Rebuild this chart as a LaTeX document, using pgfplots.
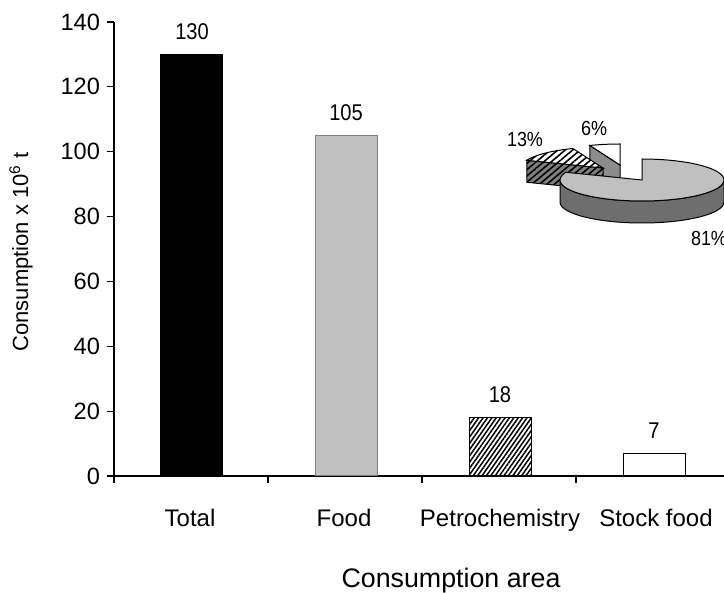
\documentclass[border=0pt]{standalone}
\usepackage{pgfplots}
\pgfplotsset{compat=1.18}
\usepackage{fontspec}
\setmainfont{Liberation Sans}
\newfontfamily\narrowfont[FakeStretch=0.88]{Liberation Sans}
\usetikzlibrary{calc,patterns.meta}

\definecolor{silverfill}{HTML}{C0C0C0}
\definecolor{silveredge}{HTML}{808080}
\definecolor{pieside}{HTML}{6E6E6E}
\definecolor{cutgray}{HTML}{8C8C8C}
\definecolor{hatchside}{HTML}{808080}

\tikzset{hatch/.style={pattern={Lines[angle=55,distance=1.8pt,line width=0.75pt]}},
         piehatch/.style={pattern={Lines[angle=40,distance=2.4pt,line width=0.8pt]}}}

% shares of the consumption (percent) and the pie angles derived from them
\pgfmathsetmacro\shareFood{81}
\pgfmathsetmacro\sharePetro{13}
\pgfmathsetmacro\shareStock{6}
\pgfmathsetmacro\angStockEnd{90+3.6*\shareStock}
\pgfmathsetmacro\angPetroEnd{\angStockEnd+3.6*\sharePetro}
\pgfmathsetmacro\angFoodEnd{90-3.6*\shareFood}

\def\rx{41pt}
\def\ry{10.5pt}
\def\depth{11pt}

\begin{document}
\begin{tikzpicture}
\begin{axis}[
  at={(0pt,0pt)}, anchor=south west,
  scale only axis, width=305pt, height=227pt,
  xmin=114, xmax=724, ymin=0, ymax=140,
  axis lines=left,
  axis line style={-, line width=0.8pt, black},
  tick style={black, line width=0.6pt},
  tick align=outside,
  major tick length=3.5pt,
  ytick={0,20,...,140},
  xtick={114,268,422,576},
  xticklabels={},
  extra x ticks={190,344,500,656},
  extra x tick labels={Total,Food,Petrochemistry,Stock food},
  extra x tick style={major tick length=0pt,
    xticklabel style={anchor=base, yshift=-25.5pt, font=\fontsize{12}{13}\selectfont}},
  yticklabel style={font=\fontsize{11.8}{13}\selectfont},
  /pgf/number format/assume math mode=true,
  clip=false,
  nodes near coords={\narrowfont\fontsize{11.4}{12}\selectfont\pgfmathprintnumber{\pgfplotspointmeta}},
  every node near coord/.append style={anchor=base, yshift=7.6pt, text=black, inner sep=0pt},
]
\addplot[ybar, bar shift=0pt, bar width=62, fill=black, draw=black, line width=0.5pt]
  coordinates {(192,130)};
\addplot[ybar, bar shift=0pt, bar width=62, fill=silverfill, draw=silveredge, line width=0.5pt]
  coordinates {(346,105)};
\addplot[ybar, bar shift=0pt, bar width=62, hatch, draw=black, line width=0.5pt]
  coordinates {(500,18)};
\addplot[ybar, bar shift=0pt, bar width=62, fill=white, draw=black, line width=0.5pt]
  coordinates {(654,7)};
\end{axis}

% overlay axis in the same frame: the 3-D pie of the shares and the axis titles
\begin{axis}[
  at={(0pt,0pt)}, anchor=south west,
  scale only axis, width=305pt, height=227pt,
  xmin=114, xmax=724, ymin=22, ymax=476, y dir=reverse,
  hide axis, clip=false,
]
% stock food slice (white), pulled towards the back
\filldraw[fill=cutgray, draw=black, line width=0.5pt]
  (axis cs:620,165)
  -- ($(axis cs:620,165)+(\angStockEnd:41pt and 10.5pt)$)
  -- ++(0pt,-\depth)
  -- ($(axis cs:620,165)+(0pt,-\depth)$) -- cycle;
\filldraw[fill=white, draw=black, line width=0.5pt]
  (axis cs:620,165) -- ($(axis cs:620,165)+(0pt,\ry)$)
  arc[start angle=90, end angle=\angStockEnd, x radius=\rx, y radius=\ry] -- cycle;
% petrochemistry slice (hatched)
\filldraw[fill=hatchside, draw=black, line width=0.5pt, postaction={piehatch}]
  (axis cs:603,168)
  -- ($(axis cs:603,168)+(\angPetroEnd:41pt and 10.5pt)$)
  -- ++(0pt,-\depth)
  -- ($(axis cs:603,168)+(0pt,-\depth)$) -- cycle;
\filldraw[fill=white, draw=black, line width=0.5pt, postaction={piehatch}]
  (axis cs:603,168)
  -- ($(axis cs:603,168)+(\angStockEnd:41pt and 10.5pt)$)
  arc[start angle=\angStockEnd, end angle=\angPetroEnd, x radius=\rx, y radius=\ry] -- cycle;
% food slice (grey), side then top
\filldraw[fill=pieside, draw=black, line width=0.5pt]
  ($(axis cs:642,180)+(-\rx,0pt)$)
  arc[start angle=180, end angle=360, x radius=\rx, y radius=\ry]
  -- ++(0pt,-\depth)
  arc[start angle=360, end angle=180, x radius=\rx, y radius=\ry] -- cycle;
\filldraw[fill=silverfill, draw=black, line width=0.5pt]
  (axis cs:642,180) -- ($(axis cs:642,180)+(0pt,\ry)$)
  arc[start angle=90, end angle=\angFoodEnd, x radius=\rx, y radius=\ry] -- cycle;
% pie labels
\node[font=\narrowfont\fontsize{10.2}{11}\selectfont] at (axis cs:525,139) {13\%};
\node[font=\narrowfont\fontsize{10.2}{11}\selectfont] at (axis cs:594,128) {6\%};
\node[font=\narrowfont\fontsize{10.2}{11}\selectfont] at (axis cs:709,238) {81\%};
% axis titles
\node[anchor=base, font=\fontsize{13.4}{15}\selectfont] at (axis cs:451,588) {Consumption area};
\node[rotate=90, font=\fontsize{11}{13}\selectfont] at (axis cs:21,252) {Consumption x 10\textsuperscript{6} t};
\end{axis}
\pgfresetboundingbox
\useasboundingbox (-57pt,-58.5pt) rectangle (305pt,238pt);
\end{tikzpicture}
\end{document}
